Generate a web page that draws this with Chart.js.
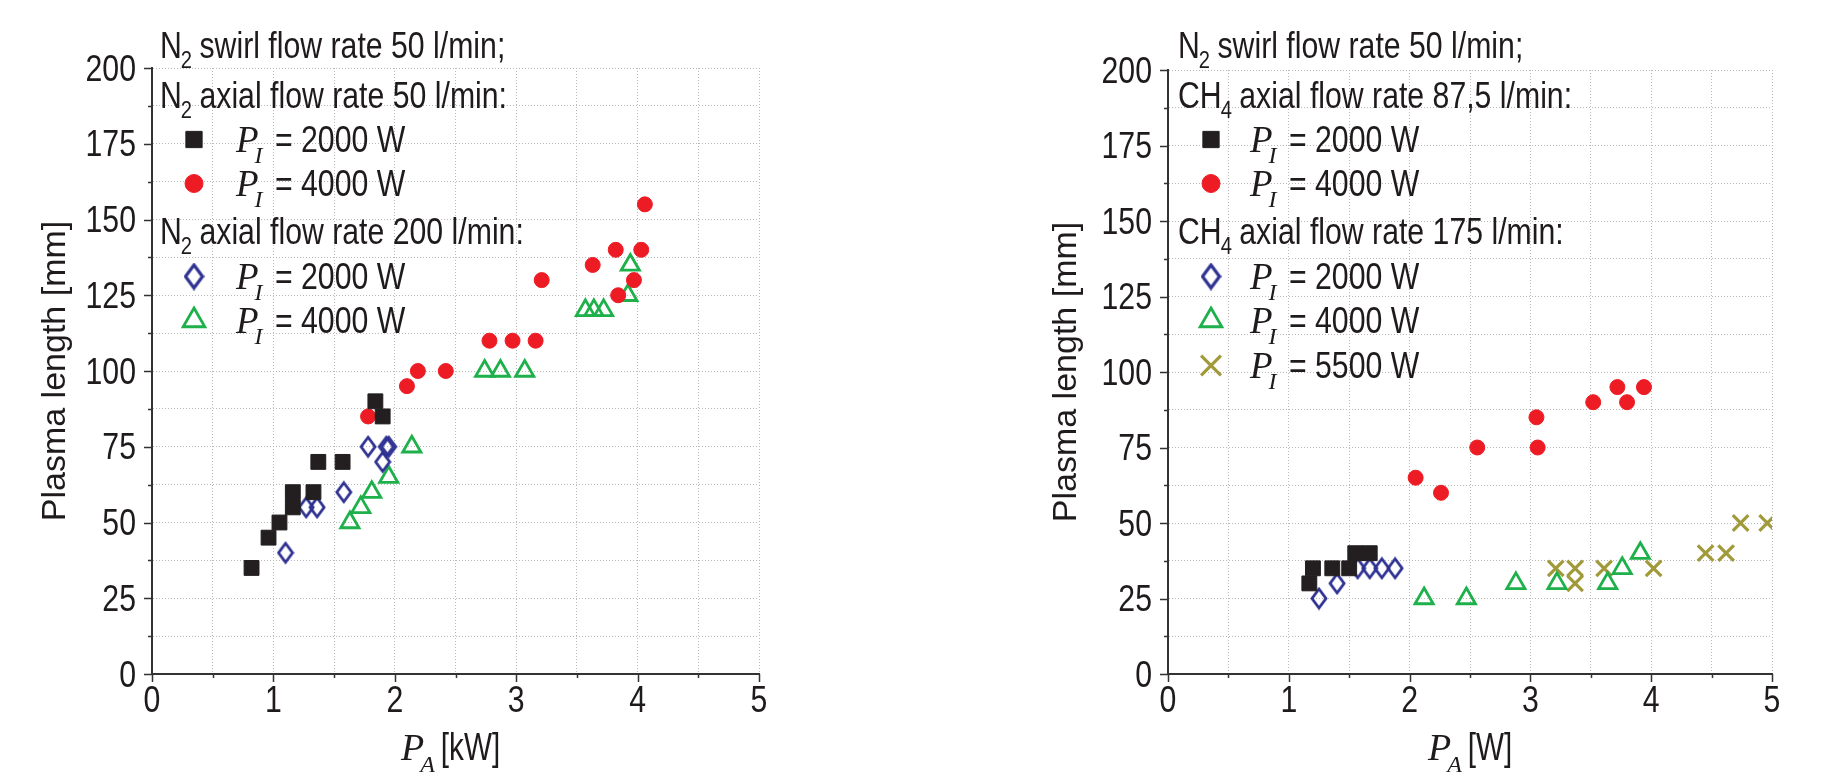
<!DOCTYPE html>
<html>
<head>
<meta charset="utf-8">
<script src="https://cdn.jsdelivr.net/npm/chart.js@4.4.1/dist/chart.umd.min.js"></script>
<style>
  html, body { margin: 0; padding: 0; background: #fff; }
  #wrap { position: relative; width: 1824px; height: 776px; }
  .pane { position: absolute; top: 0; width: 912px; height: 776px; }
</style>
</head>
<body>
<div id="wrap">
  <div class="pane" style="left:0"><canvas id="left"></canvas></div>
  <div class="pane" style="left:912px"><canvas id="right"></canvas></div>
</div>
<script>
// ---- data: P_A [kW] vs plasma length [mm] ----
// left panel, N2 axial flow
const n2Ax50_2000_x = [0.82, 0.96, 1.05, 1.16, 1.16, 1.33, 1.37, 1.57, 1.84, 1.90];
const n2Ax50_2000_y = [35, 45, 50, 60, 55, 60, 70, 70, 90, 85];
const n2Ax50_4000_x = [1.78, 2.10, 2.19, 2.42, 2.78, 2.97, 3.16, 3.21, 3.63, 3.82, 3.84, 3.97, 4.03, 4.06];
const n2Ax50_4000_y = [85, 95, 100, 100, 110, 110, 110, 130, 135, 140, 125, 130, 140, 155];
const n2Ax200_2000_x = [1.10, 1.27, 1.36, 1.58, 1.78, 1.90, 1.93, 1.95];
const n2Ax200_2000_y = [40, 55, 55, 60, 75, 70, 75, 75];
const n2Ax200_4000_x = [1.63, 1.72, 1.81, 1.95, 2.14, 2.74, 2.87, 3.07, 3.57, 3.64, 3.72, 3.92, 3.94];
const n2Ax200_4000_y = [50, 55, 60, 65, 75, 100, 100, 100, 120, 120, 120, 125, 135];

// right panel, CH4 axial flow
const ch4Ax87_2000_x = [1.17, 1.20, 1.36, 1.50, 1.55, 1.67];
const ch4Ax87_2000_y = [30, 35, 35, 35, 40, 40];
const ch4Ax87_4000_x = [2.05, 2.26, 2.56, 3.05, 3.06, 3.52, 3.72, 3.80, 3.94];
const ch4Ax87_4000_y = [65, 60, 75, 85, 75, 90, 95, 90, 95];
const ch4Ax175_2000_x = [1.25, 1.40, 1.57, 1.67, 1.77, 1.88];
const ch4Ax175_2000_y = [25, 30, 35, 35, 35, 35];
const ch4Ax175_4000_x = [2.12, 2.47, 2.88, 3.22, 3.64, 3.76, 3.91];
const ch4Ax175_4000_y = [25, 25, 30, 30, 30, 35, 40];
const ch4Ax175_5500_x = [3.21, 3.37, 3.37, 3.61, 4.02, 4.45, 4.62, 4.74, 4.96];
const ch4Ax175_5500_y = [35, 35, 30, 35, 35, 40, 40, 50, 50];

const xTicks = [0, 1, 2, 3, 4, 5];
const yTicks = [0, 25, 50, 75, 100, 125, 150, 175, 200];

const leftHeads = [
  ["N", "2", " swirl flow rate 50 l/min;"],
  ["N", "2", " axial flow rate 50 l/min:"],
  ["N", "2", " axial flow rate 200 l/min:"]
];
const rightHeads = [
  ["N", "2", " swirl flow rate 50 l/min;"],
  ["CH", "4", " axial flow rate 87,5 l/min:"],
  ["CH", "4", " axial flow rate 175 l/min:"]
];

// ---- styling ----
// no narrow sans installed, so sans text is squeezed horizontally
const SQ = 0.84;
const SANS = '"Liberation Sans", Arial, sans-serif';
const SERIF = '"Liberation Serif", "Times New Roman", serif';
const INK = "#1f1b1c";
const BLACK = "#231f20", RED = "#ed1c24", BLUE = "#2e3192", GREEN = "#1eb04a", OLIVE = "#a09a3a";

function diamond(w, h, color, lw) {
  const c = document.createElement("canvas");
  c.width = w; c.height = h;
  const g = c.getContext("2d");
  g.strokeStyle = color; g.lineWidth = lw;
  const m = 2.5;
  g.beginPath();
  g.moveTo(w / 2, m); g.lineTo(w - m + 0.5, h / 2); g.lineTo(w / 2, h - m); g.lineTo(m - 0.5, h / 2);
  g.closePath(); g.stroke();
  return c;
}

const styles = {
  sq: { pointStyle: "rect", radius: 10.5, legendRadius: 11.5, fill: BLACK, stroke: BLACK, lw: 1 },
  ci: { pointStyle: "circle", radius: 7.5, legendRadius: 9, fill: RED, stroke: RED, lw: 1 },
  di: { pointStyle: diamond(18, 24, BLUE, 2.8), legendStyle: diamond(21, 28, BLUE, 3.2), radius: 9, fill: "rgba(0,0,0,0)", stroke: BLUE, lw: 2.8 },
  tr: { pointStyle: "triangle", radius: 10.5, legendRadius: 12.5, fill: "rgba(0,0,0,0)", stroke: GREEN, lw: 2.8 },
  xx: { pointStyle: "crossRot", radius: 11, legendRadius: 14, fill: OLIVE, stroke: OLIVE, lw: 3.2 }
};

function pts(xs, ys) { return xs.map((x, i) => ({ x, y: ys[i] })); }

function dataset(label, xs, ys, st) {
  return {
    label,
    data: pts(xs, ys),
    pointStyle: st.pointStyle,
    pointRadius: st.radius,
    pointBackgroundColor: st.fill,
    pointBorderColor: st.stroke,
    pointBorderWidth: st.lw,
    showLine: false
  };
}

// parts: {t, font, k (horizontal squeeze), dx, dy, after}
function richWidth(ctx, parts) {
  let w = 0;
  for (const p of parts) {
    ctx.font = p.font;
    w += (p.dx || 0) + ctx.measureText(p.t).width * (p.k || 1) + (p.after || 0);
  }
  return w;
}

function drawRich(ctx, x, y, parts) {
  ctx.save();
  ctx.fillStyle = INK;
  ctx.textBaseline = "alphabetic";
  ctx.textAlign = "left";
  for (const p of parts) {
    const k = p.k || 1;
    ctx.font = p.font;
    x += p.dx || 0;
    ctx.save();
    ctx.translate(x, y + (p.dy || 0));
    ctx.scale(k, 1);
    ctx.fillText(p.t, 0, 0);
    ctx.restore();
    x += ctx.measureText(p.t).width * k + (p.after || 0);
  }
  ctx.restore();
}

const txt = (t) => ({ t, font: `36px ${SANS}`, k: SQ });
const sub = (t) => ({ t, font: `24px ${SANS}`, k: SQ, dy: 10, dx: -1, after: -1 });
const pSub = (s) => [
  { t: "P", font: `italic 37px ${SERIF}` },
  { t: s, font: `italic 24px ${SERIF}`, dy: 11, dx: -4, after: 4 }
];

function drawMarker(ctx, st, x, y) {
  ctx.save();
  ctx.fillStyle = st.fill;
  ctx.strokeStyle = st.stroke;
  ctx.lineWidth = st.lw;
  Chart.helpers.drawPoint(ctx, {
    pointStyle: st.legendStyle || st.pointStyle,
    rotation: 0,
    radius: st.legendRadius || st.radius,
    borderWidth: st.lw
  }, x, y);
  ctx.restore();
}

// tick marks + tick labels, placed with the chart's own scales
const axisDecor = {
  id: "axisDecor",
  afterDraw(chart) {
    const { ctx, scales: { x, y } } = chart;
    ctx.save();
    ctx.strokeStyle = "#333";
    ctx.lineWidth = 1.5;
    ctx.beginPath();
    for (const t of y.ticks) {
      const py = Math.round(y.getPixelForValue(t.value)) + 0.5;
      const len = yTicks.includes(t.value) ? 8 : 4;
      ctx.moveTo(y.right - len, py); ctx.lineTo(y.right, py);
    }
    for (const t of x.ticks) {
      const px = Math.round(x.getPixelForValue(t.value)) + 0.5;
      const len = xTicks.includes(t.value) ? 8 : 4;
      ctx.moveTo(px, x.top); ctx.lineTo(px, x.top + len);
    }
    ctx.stroke();
    ctx.restore();

    for (const v of yTicks) {
      const parts = [{ t: String(v), font: `36px ${SANS}`, k: SQ }];
      const w = richWidth(ctx, parts);
      drawRich(ctx, y.right - 16 - w, y.getPixelForValue(v) + 12.5, parts);
    }
    for (const v of xTicks) {
      const parts = [{ t: String(v), font: `36px ${SANS}`, k: SQ }];
      const w = richWidth(ctx, parts);
      drawRich(ctx, x.getPixelForValue(v) - w / 2, x.top + 38, parts);
    }
  }
};

// legend rows (header text or marker + P_I label) and the x axis title
function legendPlugin(cfg) {
  return {
    id: "legendBlock",
    afterDraw(chart) {
      const ctx = chart.ctx;
      cfg.rows.forEach((row, i) => {
        const y = cfg.baselines[i];
        if (row.head) {
          drawRich(ctx, cfg.xHead, y, [txt(row.head[0]), sub(row.head[1]), txt(row.head[2])]);
        } else {
          drawMarker(ctx, row.st, cfg.xMark, y - 12.5);
          drawRich(ctx, cfg.xText, y, [...pSub("I"), txt(row.text)]);
        }
      });
      drawRich(ctx, cfg.xTitleX, 760, [
        { t: "P", font: `italic 38px ${SERIF}` },
        { t: "A", font: `italic 24px ${SERIF}`, dy: 12, dx: -4, after: 6 },
        { t: cfg.unit, font: `38px ${SANS}`, k: 0.78 }
      ]);
    }
  };
}

function makeChart(id, datasets, area, legendCfg) {
  const W = 912, H = 776;
  return new Chart(document.getElementById(id), {
    type: "scatter",
    data: { datasets },
    options: {
      responsive: true,
      maintainAspectRatio: false,
      animation: false,
      layout: { padding: { left: 0, right: W - area.right, top: area.top, bottom: 0 } },
      plugins: { legend: { display: false }, tooltip: { enabled: false } },
      scales: {
        x: {
          type: "linear", min: 0, max: 5,
          afterFit: (s) => { s.height = H - area.bottom; },
          ticks: { stepSize: 0.5, autoSkip: false, maxRotation: 0, display: false },
          grid: { color: "#b8b8b8", lineWidth: 1, drawTicks: false },
          border: { display: true, color: "#333", width: 2, dash: [1, 2] }
        },
        y: {
          type: "linear", min: 0, max: 200,
          afterFit: (s) => { s.width = area.left; },
          ticks: { stepSize: 12.5, autoSkip: false, display: false },
          grid: { color: "#b8b8b8", lineWidth: 1, drawTicks: false },
          border: { display: true, color: "#333", width: 2, dash: [1, 2] },
          title: {
            display: true, text: "Plasma length [mm]", color: INK,
            font: { family: SANS, size: 34 },
            padding: { top: area.titlePad, bottom: 0 }
          }
        }
      }
    },
    plugins: [axisDecor, legendPlugin(legendCfg)]
  });
}

makeChart("left", [
  dataset("N2 axial 50 l/min, PI = 2000 W", n2Ax50_2000_x, n2Ax50_2000_y, styles.sq),
  dataset("N2 axial 50 l/min, PI = 4000 W", n2Ax50_4000_x, n2Ax50_4000_y, styles.ci),
  dataset("N2 axial 200 l/min, PI = 2000 W", n2Ax200_2000_x, n2Ax200_2000_y, styles.di),
  dataset("N2 axial 200 l/min, PI = 4000 W", n2Ax200_4000_x, n2Ax200_4000_y, styles.tr)
], { left: 152, right: 759, top: 68, bottom: 674, titlePad: 35 }, {
  xHead: 160, xMark: 194, xText: 236, xTitleX: 401, unit: "[kW]",
  baselines: [58, 108, 152, 196, 244, 289, 333],
  rows: [
    { head: leftHeads[0] },
    { head: leftHeads[1] },
    { st: styles.sq, text: " = 2000 W" },
    { st: styles.ci, text: " = 4000 W" },
    { head: leftHeads[2] },
    { st: styles.di, text: " = 2000 W" },
    { st: styles.tr, text: " = 4000 W" }
  ]
});

makeChart("right", [
  dataset("CH4 axial 87,5 l/min, PI = 2000 W", ch4Ax87_2000_x, ch4Ax87_2000_y, styles.sq),
  dataset("CH4 axial 87,5 l/min, PI = 4000 W", ch4Ax87_4000_x, ch4Ax87_4000_y, styles.ci),
  dataset("CH4 axial 175 l/min, PI = 2000 W", ch4Ax175_2000_x, ch4Ax175_2000_y, styles.di),
  dataset("CH4 axial 175 l/min, PI = 4000 W", ch4Ax175_4000_x, ch4Ax175_4000_y, styles.tr),
  dataset("CH4 axial 175 l/min, PI = 5500 W", ch4Ax175_5500_x, ch4Ax175_5500_y, styles.xx)
], { left: 256, right: 860, top: 70, bottom: 674, titlePad: 134 }, {
  xHead: 266, xMark: 299, xText: 338, xTitleX: 516, unit: "[W]",
  baselines: [58, 108, 152, 196, 244, 289, 333, 378],
  rows: [
    { head: rightHeads[0] },
    { head: rightHeads[1] },
    { st: styles.sq, text: " = 2000 W" },
    { st: styles.ci, text: " = 4000 W" },
    { head: rightHeads[2] },
    { st: styles.di, text: " = 2000 W" },
    { st: styles.tr, text: " = 4000 W" },
    { st: styles.xx, text: " = 5500 W" }
  ]
});
</script>
</body>
</html>
